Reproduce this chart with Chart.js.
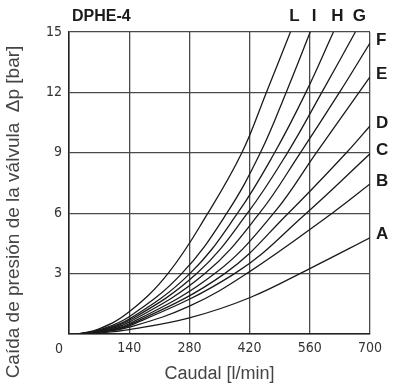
<!DOCTYPE html>
<html>
<head>
<meta charset="utf-8">
<script src="https://cdn.jsdelivr.net/npm/chart.js@4.4.0/dist/chart.umd.min.js"></script>
<style>
  html, body { margin: 0; padding: 0; background: #fff; }
  #wrap { width: 400px; height: 389px; }
</style>
</head>
<body>
<div id="wrap"><canvas id="dpheChart"></canvas></div>
<script>
// ticks
const flowTicks = [0, 140, 280, 420, 560, 700];
const dpTicks = [0, 3, 6, 9, 12, 15];

// curves: flow [l/min] -> pressure drop [bar]
const curveNames = ['L', 'I', 'H', 'G', 'F', 'E', 'D', 'C', 'B', 'A'];
const flowL = [22, 70, 140, 230, 323, 402, 459, 515];
const dpL   = [0, 0.25, 1.1, 3, 6, 9, 12, 15];
const flowI = [22, 70, 140, 262, 367, 445, 505, 561];
const dpI   = [0, 0.2, 0.86, 3, 6, 9, 12, 15];
const flowH = [22, 70, 140, 281, 392, 478, 551, 615];
const dpH   = [0, 0.18, 0.74, 3, 6, 9, 12, 15];
const flowG = [22, 70, 140, 297, 415, 508, 588, 666];
const dpG   = [0, 0.16, 0.67, 3, 6, 9, 12, 15];
const flowF = [22, 70, 140, 316, 443, 538, 629, 700];
const dpF   = [0, 0.14, 0.59, 3, 6, 9, 12, 14.45];
const flowE = [22, 70, 140, 339, 476, 575, 700];
const dpE   = [0, 0.12, 0.51, 3, 6, 9, 12.77];
const flowD = [22, 70, 140, 362, 510, 645, 700];
const dpD   = [0, 0.11, 0.45, 3, 6, 9, 10.33];
const flowC = [22, 70, 140, 385, 552, 700];
const dpC   = [0, 0.1, 0.4, 3, 6, 8.95];
const flowB = [22, 70, 140, 280, 413, 612, 700];
const dpB   = [0, 0.08, 0.34, 1.38, 3, 6, 7.45];
const flowA = [22, 70, 140, 280, 420, 560, 700];
const dpA   = [0, 0.05, 0.22, 0.8, 1.8, 3.25, 4.78];

const allFlows = [flowL, flowI, flowH, flowG, flowF, flowE, flowD, flowC, flowB, flowA];
const allDps = [dpL, dpI, dpH, dpG, dpF, dpE, dpD, dpC, dpB, dpA];

const tickFont = { family: '"DejaVu Sans Condensed", "Liberation Sans Narrow", sans-serif', size: 14 };

const datasets = curveNames.map((name, i) => ({
  label: name,
  data: allFlows[i].map((f, j) => ({ x: f, y: allDps[i][j] })),
  borderColor: '#1a1a1a',
  borderWidth: 1.3,
  pointRadius: 0,
  showLine: true,
  fill: false,
  tension: 0.4
}));

// curve letters, title, y axis title and the shared "0"
const labelsPlugin = {
  id: 'labelsPlugin',
  afterDraw(chart) {
    const ctx = chart.ctx;
    const xs = chart.scales.x;
    const ys = chart.scales.y;
    const area = chart.chartArea;
    ctx.save();
    ctx.fillStyle = '#1a1a1a';
    ctx.font = 'bold 16px "Liberation Sans", Arial, sans-serif';
    ctx.textAlign = 'left';
    ctx.textBaseline = 'middle';
    ctx.fillText('DPHE-4', 72, 17);

    ctx.font = 'bold 17px "Liberation Sans", Arial, sans-serif';
    chart.data.datasets.forEach(ds => {
      const last = ds.data[ds.data.length - 1];
      if (last.y >= 15) {
        ctx.textAlign = 'center';
        ctx.fillText(ds.label, xs.getPixelForValue(last.x) + 4, area.top - 16);
      } else {
        ctx.textAlign = 'left';
        ctx.fillText(ds.label, area.right + 6, ys.getPixelForValue(last.y) - 3);
      }
    });

    ctx.font = '14px "DejaVu Sans Condensed", "Liberation Sans Narrow", sans-serif';
    ctx.fillStyle = '#333';
    ctx.textAlign = 'center';
    ctx.fillText('0', area.left - 10, area.bottom + 15);

    ctx.fillStyle = '#444';
    ctx.font = '19px "Liberation Sans", Arial, sans-serif';
    ctx.translate(14, 212);
    ctx.rotate(-Math.PI / 2);
    ctx.fillText('Caída de presión de la válvula  Δp [bar]', 0, 0);
    ctx.restore();
  }
};

new Chart(document.getElementById('dpheChart'), {
  type: 'scatter',
  data: { datasets: datasets },
  options: {
    responsive: true,
    maintainAspectRatio: false,
    animation: false,
    layout: { padding: { top: 32, right: 30, left: 0, bottom: 0 } },
    plugins: { legend: { display: false }, tooltip: { enabled: false } },
    scales: {
      x: {
        type: 'linear',
        min: 0,
        max: 700,
        afterBuildTicks: scale => { scale.ticks = flowTicks.map(v => ({ value: v })); },
        afterFit: scale => { scale.height = 55; },
        grid: { color: '#4a4a4a', lineWidth: 1.3, drawTicks: false },
        border: { color: '#222', width: 1.5 },
        ticks: {
          padding: 6,
          color: '#333',
          font: tickFont,
          callback: v => (v === 0 ? '' : v)
        },
        title: {
          display: true,
          text: 'Caudal [l/min]',
          color: '#444',
          padding: { top: 0 },
          font: { family: '"Liberation Sans", Arial, sans-serif', size: 18 }
        }
      },
      y: {
        type: 'linear',
        min: 0,
        max: 15,
        afterBuildTicks: scale => { scale.ticks = dpTicks.map(v => ({ value: v })); },
        afterFit: scale => { scale.width = 69; },
        grid: { color: '#4a4a4a', lineWidth: 1.3, drawTicks: false },
        border: { color: '#222', width: 1.5 },
        ticks: {
          padding: 7,
          color: '#333',
          font: tickFont,
          callback: v => (v === 0 ? '' : v)
        }
      }
    }
  },
  plugins: [labelsPlugin]
});
</script>
</body>
</html>
